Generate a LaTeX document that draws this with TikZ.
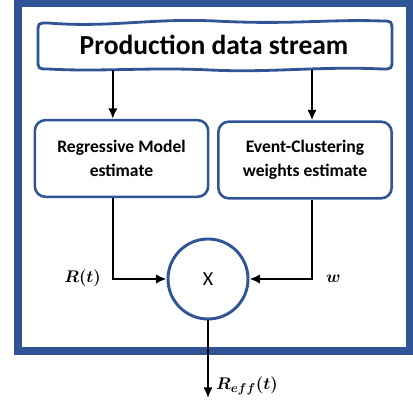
\documentclass[tikz,border=0pt]{standalone}
\usepackage{fontspec}
\setmainfont{Carlito}
\usepackage{amsmath,bm}
\usetikzlibrary{arrows.meta}
\definecolor{frameblue}{RGB}{47,85,151}
\begin{document}
\begin{tikzpicture}[x=0.03cm,y=-0.03cm,
  est/.style={draw=frameblue,line width=2.2pt,rounded corners=9pt,align=center,
    minimum width=5.2cm,minimum height=2.3cm,font=\bfseries\fontsize{15}{20.5}\selectfont},
  mult/.style={circle,draw=frameblue,line width=2.5pt,minimum size=2.4cm,inner sep=0pt,
    font=\fontsize{17}{20}\selectfont},
  link/.style={line width=1.7pt,-{Latex[length=9pt,width=8pt]}},
  lbl/.style={font=\fontsize{15.5}{18}\selectfont}]
\useasboundingbox (0,0) rectangle (413,405);
\draw[frameblue,line width=6.4pt] (18,3.5) rectangle (410,351);
\node[minimum width=10.62cm,minimum height=1.5cm,font=\bfseries\fontsize{23.5}{28}\selectfont] (stream) at (214,45) {Production data stream};
\draw[frameblue,line width=2.4pt] (48,23) .. controls (110,28) and (150,18) .. (215,21)
  .. controls (290,25) and (330,19) .. (382,21) .. controls (392,21) .. (392,32)
  -- (392,59) .. controls (392,69) .. (382,69)
  .. controls (320,66) and (270,73) .. (210,70) .. controls (150,67) and (100,72) .. (48,69)
  .. controls (38,69) .. (38,59) -- (38,33) .. controls (38,23) .. (48,23) -- cycle;
\node[est] (reg) at (121.5,158.5) {Regressive Model\\estimate};
\node[est] (evt) at (305,160) {Event-Clustering\\weights estimate};
\node[mult] (mul) at (208,279) {X};
\coordinate (out) at (208,398);
\draw[link] ([xshift=-0.26cm]reg.north |- stream.south) -- ([xshift=-0.26cm]reg.north);
\draw[link] ([xshift=0.21cm]evt.north |- stream.south) -- ([xshift=0.21cm]evt.north);
\draw[link] ([xshift=-0.26cm]reg.south) |- (mul.west);
\draw[link] ([xshift=0.21cm]evt.south) |- (mul.east);
\draw[link] (mul.south) -- (out);
\node[lbl,anchor=east] (rt) at (105,278) {$\bm{R(t)}$};
\node[lbl,anchor=west] (wt) at (322,279) {$\bm{w}$};
\node[lbl,anchor=west] (reff) at (212,386) {$\bm{R_{eff}(t)}$};
\end{tikzpicture}
\end{document}
